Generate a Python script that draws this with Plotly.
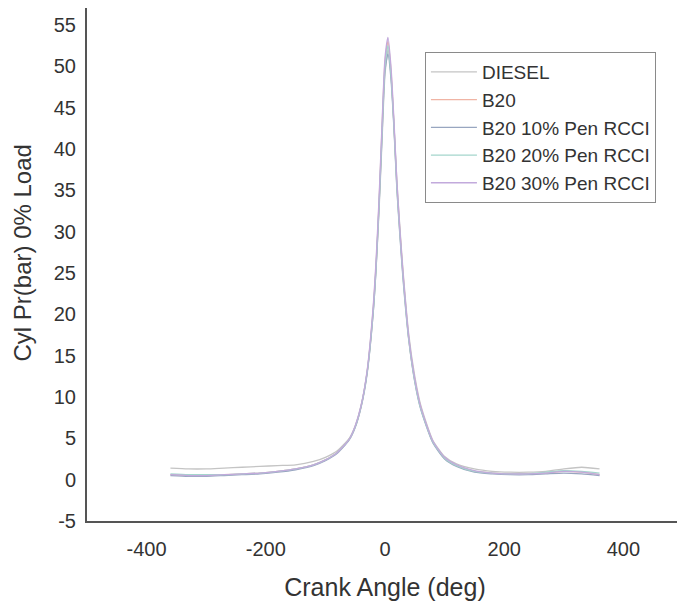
import plotly.graph_objects as go

crank_angle = [-360, -330, -300, -270, -240, -210, -180, -150, -120, -100, -80, -60, -50, -40,
               -30, -20, -15, -10, -5, 0, 5, 10, 15, 20, 25, 30, 40, 50, 60, 80, 100, 120,
               150, 180, 210, 240, 270, 300, 330, 360]

diesel = [1.4, 1.3, 1.3, 1.4, 1.5, 1.6, 1.7, 1.8, 2.2, 2.7, 3.5, 5.0, 6.5, 9.0,
          13.0, 20.0, 25.5, 32.5, 41.0, 49.0, 52.0, 49.0, 43.0, 36.0, 30.5, 25.5, 17.5, 12.5, 9.0, 4.8, 2.8, 1.9,
          1.3, 1.0, 0.9, 0.9, 1.0, 1.3, 1.5, 1.3]
b20 = [0.6, 0.5, 0.5, 0.6, 0.7, 0.8, 1.0, 1.3, 1.8, 2.4, 3.3, 4.9, 6.4, 8.9,
       13.0, 20.5, 26.0, 33.5, 42.5, 50.5, 53.0, 49.5, 43.0, 35.5, 30.0, 25.0, 17.0, 12.0, 8.7, 4.6, 2.6, 1.7,
       1.0, 0.8, 0.7, 0.7, 0.8, 1.0, 0.9, 0.6]
b20_10 = [0.5, 0.4, 0.4, 0.5, 0.6, 0.7, 0.9, 1.2, 1.7, 2.3, 3.2, 4.8, 6.3, 8.8,
          12.8, 20.0, 25.5, 33.0, 41.5, 49.5, 51.5, 48.5, 42.5, 35.0, 29.5, 24.5, 16.8, 11.8, 8.5, 4.5, 2.5, 1.6,
          0.9, 0.7, 0.6, 0.6, 0.7, 0.8, 0.7, 0.5]
b20_20 = [0.7, 0.6, 0.6, 0.6, 0.7, 0.8, 1.0, 1.3, 1.8, 2.4, 3.3, 4.9, 6.4, 8.9,
          13.0, 20.3, 25.8, 33.2, 42.0, 50.0, 52.5, 49.0, 42.8, 35.3, 29.8, 24.8, 16.9, 11.9, 8.6, 4.6, 2.6, 1.7,
          1.0, 0.8, 0.7, 0.7, 0.9, 1.1, 1.0, 0.8]
b20_30 = [0.6, 0.5, 0.5, 0.6, 0.7, 0.8, 1.0, 1.3, 1.8, 2.4, 3.3, 4.9, 6.5, 9.0,
          13.2, 20.8, 26.5, 34.0, 43.0, 51.0, 53.5, 50.0, 43.5, 36.0, 30.2, 25.2, 17.2, 12.2, 8.8, 4.7, 2.7, 1.8,
          1.1, 0.8, 0.7, 0.7, 0.8, 1.0, 0.9, 0.6]

series_names = ["DIESEL", "B20", "B20 10% Pen RCCI", "B20 20% Pen RCCI", "B20 30% Pen RCCI"]
series_values = [diesel, b20, b20_10, b20_20, b20_30]
series_colors = ["#c4c4c4", "#f0b4a4", "#98a6c0", "#a4d6cc", "#c2aadc"]

x_ticks = [-400, -200, 0, 200, 400]
x_tick_labels = ["-400", "-200", "0", "200", "400"]
y_ticks = [-5, 0, 5, 10, 15, 20, 25, 30, 35, 40, 45, 50, 55]
y_tick_labels = ["-5", "0", "5", "10", "15", "20", "25", "30", "35", "40", "45", "50", "55"]
y_title = "Cyl Pr(bar) 0% Load"

fig = go.Figure()
for name, vals, col in zip(series_names, series_values, series_colors):
    fig.add_trace(go.Scatter(x=crank_angle, y=vals, mode="lines", name=name,
                             line=dict(color=col, width=1.3, shape="spline", smoothing=0.6)))

font_family = "Liberation Sans, Arial, sans-serif"
fig.update_layout(
    width=677, height=601,
    margin=dict(l=79, r=2, t=0, b=88),
    paper_bgcolor="white", plot_bgcolor="white",
    font=dict(family=font_family, color="#333333"),
    showlegend=True,
    legend=dict(x=0.567, y=0.914, xanchor="left", yanchor="top",
                bordercolor="#8a8a8a", borderwidth=1, bgcolor="white",
                font=dict(size=19, color="#333333", family=font_family),
                itemwidth=46),
    xaxis=dict(range=[-500, 500], tickvals=x_ticks, ticktext=x_tick_labels,
               showgrid=False, zeroline=False, automargin=False,
               showline=True, linecolor="#555555", linewidth=2, ticks="",
               tickfont=dict(size=20, color="#333333"), ticklabelstandoff=9,
               title=dict(text="Crank Angle (deg)", font=dict(size=25, color="#333333"), standoff=19)),
    yaxis=dict(range=[-5, 57.05], tickvals=y_ticks, ticktext=y_tick_labels,
               showgrid=False, zeroline=False, automargin=False,
               showline=True, linecolor="#555555", linewidth=2, ticks="",
               tickfont=dict(size=20, color="#333333"), ticklabelstandoff=5),
    annotations=[dict(text=y_title, xref="paper", yref="paper", x=0, y=0.5,
                      xanchor="center", yanchor="middle", xshift=-65, yshift=11,
                      textangle=-90, showarrow=False,
                      font=dict(size=24, color="#333333", family=font_family))],
)

fig.write_html("out.html")
